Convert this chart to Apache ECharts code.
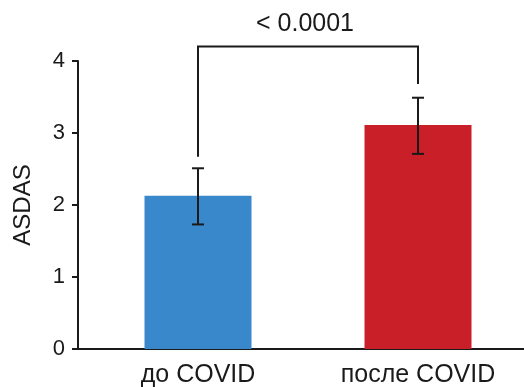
<!DOCTYPE html>
<html>
<head>
<meta charset="utf-8">
<script src="https://cdn.jsdelivr.net/npm/echarts@6/dist/echarts.min.js"></script>
<style>
  html, body { margin: 0; padding: 0; background: #fff; }
  #chart { width: 524px; height: 387px; }
</style>
</head>
<body>
<div id="chart"></div>
<script>
// данные
const categories = ["до COVID", "после COVID"];
const means = [2.13, 3.11];
const errLow = [1.73, 2.71];
const errHigh = [2.51, 3.49];
const barColors = ["#3A88CC", "#C91F29"];
const yTicks = [0, 1, 2, 3, 4];
// скобка значимости: уровень, низ левой ножки, низ правой ножки
const bracketLevel = 4.2;
const bracketLegs = [2.67, 3.68];
const pText = "< 0.0001";

const font = "Liberation Sans, Arial, sans-serif";

let myChart = echarts.init(document.getElementById("chart"));

let option = {
  animation: false,
  grid: {
    left: 88,
    right: -4,
    top: 61,
    bottom: 38,
    containLabel: false,
    outerBoundsMode: "none",
  },
  xAxis: {
    type: "category",
    data: categories,
    axisLine: { lineStyle: { color: "#1a1a1a", width: 2 } },
    axisTick: { show: false },
    axisLabel: {
      color: "#1a1a1a",
      fontSize: 25,
      fontFamily: font,
      margin: 14,
    },
  },
  yAxis: {
    type: "value",
    min: 0,
    max: 4,
    interval: 1,
    offset: 10,
    name: "ASDAS",
    nameLocation: "middle",
    nameGap: 43,
    nameTextStyle: { color: "#1a1a1a", fontSize: 24, fontFamily: font },
    axisLine: { show: true, lineStyle: { color: "#1a1a1a", width: 2 } },
    axisTick: { show: true, length: 6, lineStyle: { color: "#1a1a1a", width: 2 } },
    axisLabel: {
      color: "#1a1a1a",
      fontSize: 22,
      fontFamily: font,
      margin: 13,
      formatter: (v) => (yTicks.includes(v) ? String(v) : ""),
    },
    splitLine: { show: false },
  },
  // кусочек оси X между осью Y и началом сетки
  graphic: [
    {
      type: "line",
      shape: { x1: 77, y1: 349, x2: 89, y2: 349 },
      style: { stroke: "#1a1a1a", lineWidth: 2 },
    },
  ],
  series: [
    {
      type: "bar",
      barWidth: 107,
      data: means.map((v, i) => ({ value: v, itemStyle: { color: barColors[i] } })),
    },
    {
      type: "custom",
      data: categories.map((c, i) => [i, errLow[i], errHigh[i]]),
      renderItem: function (params, api) {
        const lo = api.coord([api.value(0), api.value(1)]);
        const hi = api.coord([api.value(0), api.value(2)]);
        const w = 6;
        const st = { stroke: "#1a1a1a", lineWidth: 2 };
        return {
          type: "group",
          children: [
            { type: "line", shape: { x1: lo[0], y1: lo[1], x2: hi[0], y2: hi[1] }, style: st },
            { type: "line", shape: { x1: hi[0] - w, y1: hi[1], x2: hi[0] + w, y2: hi[1] }, style: st },
            { type: "line", shape: { x1: lo[0] - w, y1: lo[1], x2: lo[0] + w, y2: lo[1] }, style: st },
          ],
        };
      },
      z: 5,
    },
    {
      type: "custom",
      data: [[0, 1, bracketLevel, bracketLegs[0], bracketLegs[1]]],
      renderItem: function (params, api) {
        const a = api.coord([api.value(0), api.value(3)]);
        const b = api.coord([api.value(0), api.value(2)]);
        const c = api.coord([api.value(1), api.value(2)]);
        const d = api.coord([api.value(1), api.value(4)]);
        return {
          type: "group",
          children: [
            {
              type: "polyline",
              shape: { points: [a, b, c, d] },
              style: { stroke: "#1a1a1a", lineWidth: 2, fill: null },
            },
            {
              type: "text",
              x: (b[0] + c[0]) / 2 - 3,
              y: b[1] - 22,
              style: {
                text: pText,
                fill: "#1a1a1a",
                fontSize: 25,
                fontFamily: font,
                align: "center",
                verticalAlign: "middle",
              },
            },
          ],
        };
      },
      z: 5,
    },
  ],
};
myChart.setOption(option);
</script>
</body>
</html>
